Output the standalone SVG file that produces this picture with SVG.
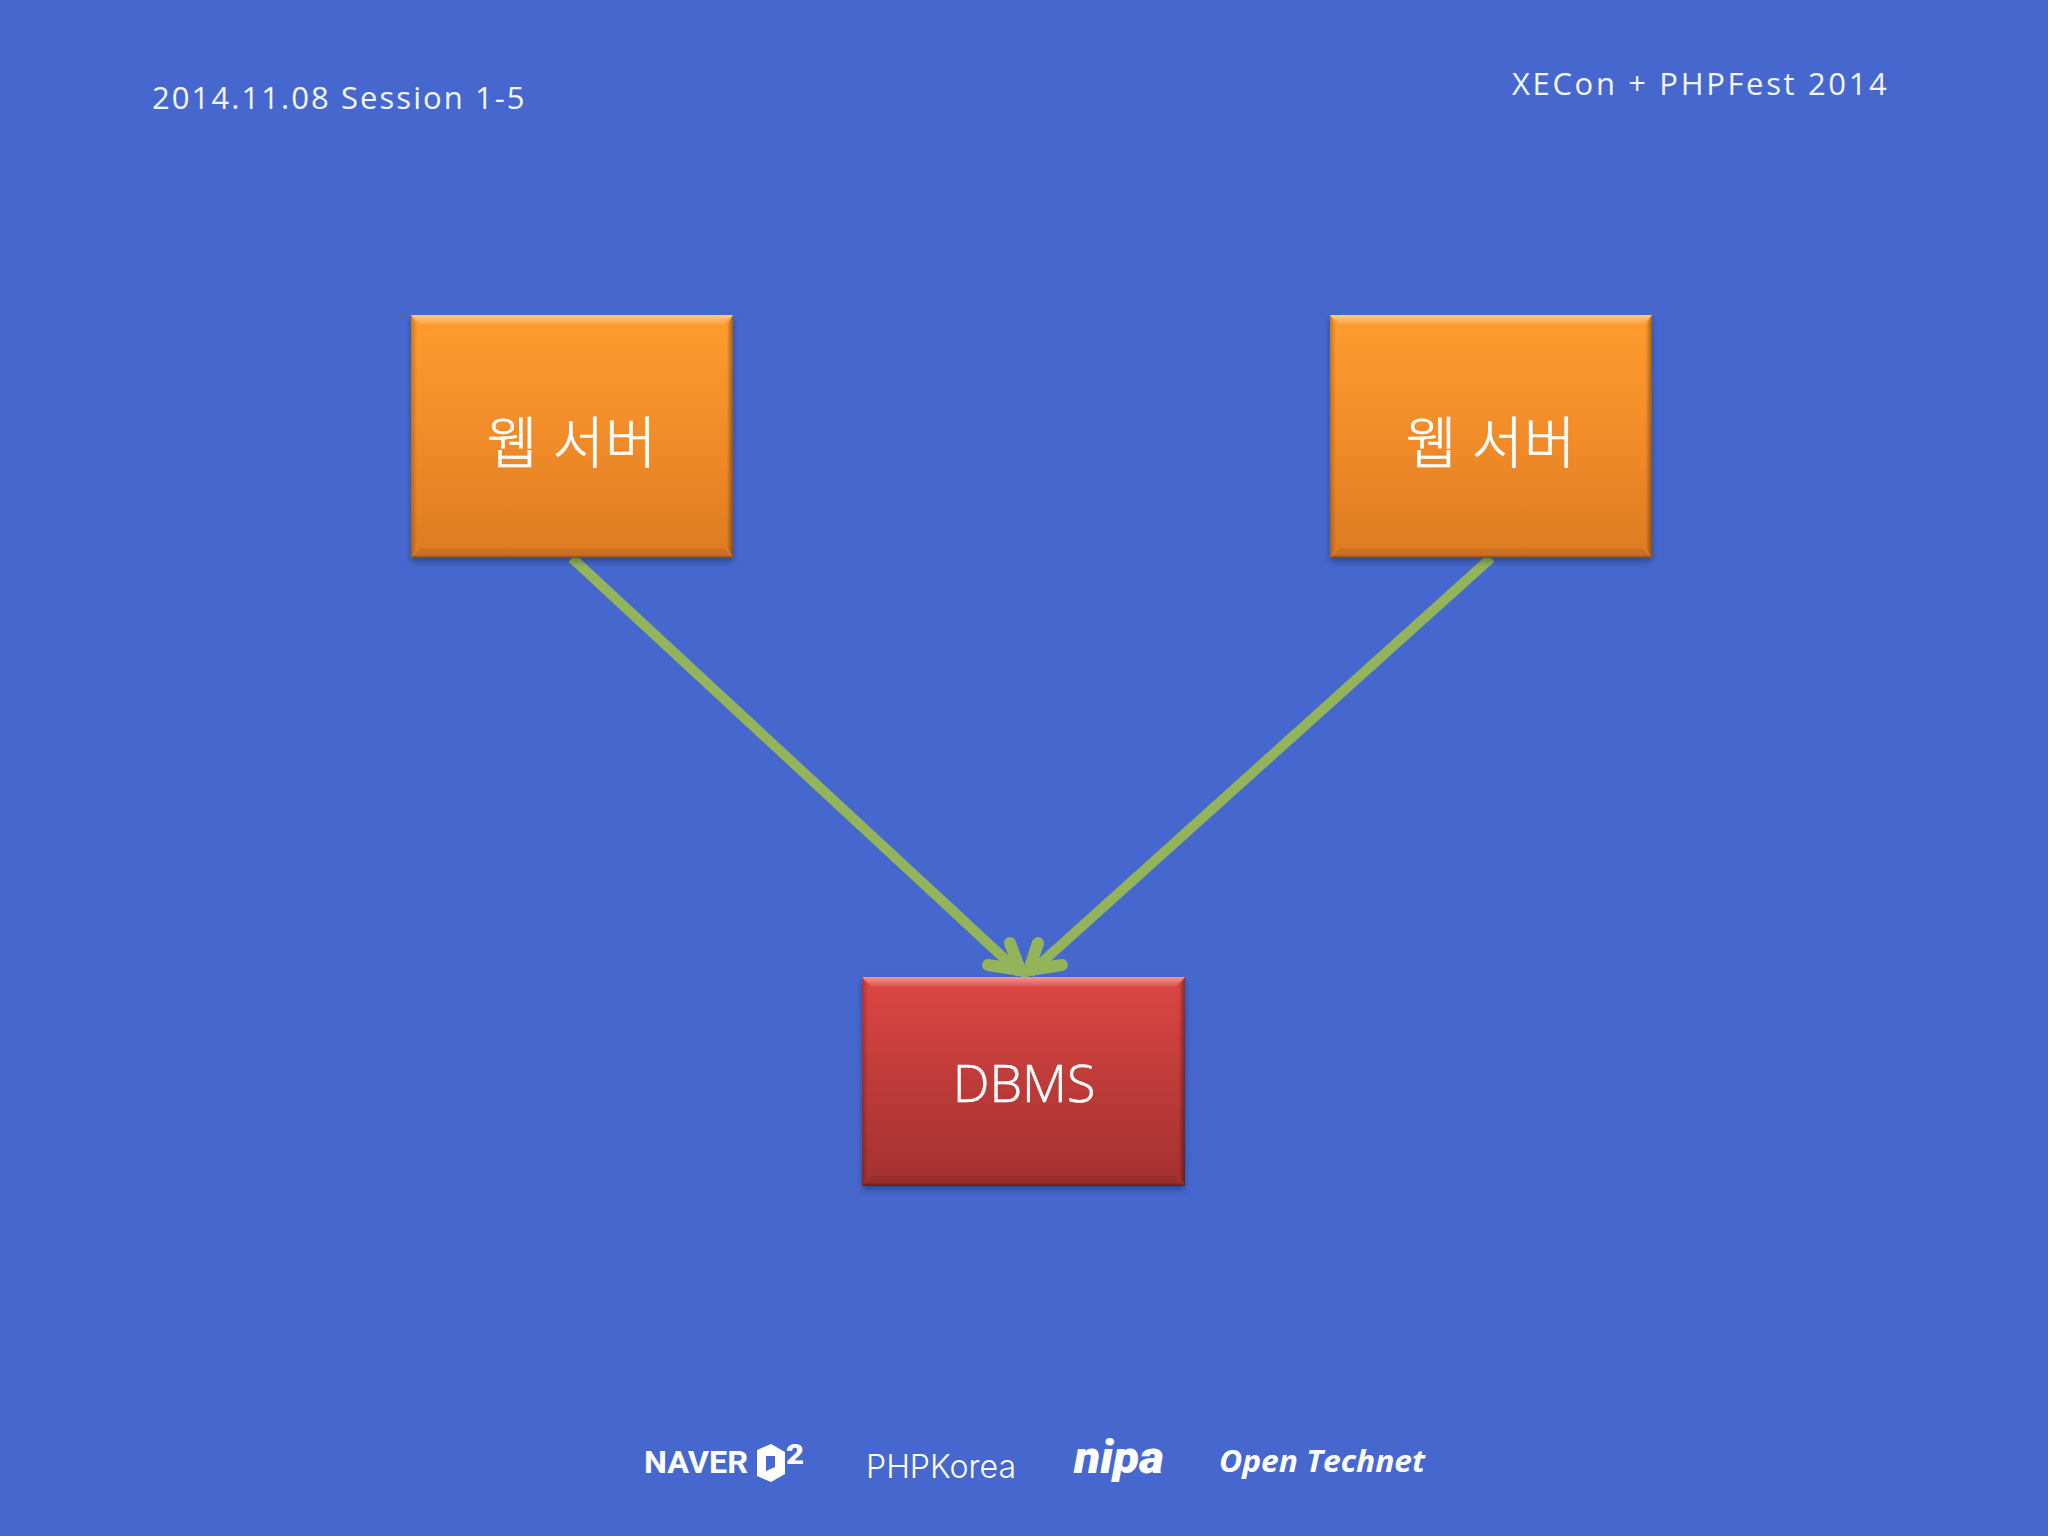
<svg xmlns="http://www.w3.org/2000/svg" width="2048" height="1536" viewBox="0 0 2048 1536">
<defs>
<linearGradient id="og" x1="0" y1="0" x2="0" y2="1"><stop offset="0" stop-color="#ff9c2e"/><stop offset="0.55" stop-color="#f08a28"/><stop offset="1" stop-color="#dc7b22"/></linearGradient>
<linearGradient id="rg" x1="0" y1="0" x2="0" y2="1"><stop offset="0" stop-color="#dd4643"/><stop offset="0.55" stop-color="#bb3a38"/><stop offset="1" stop-color="#a33130"/></linearGradient>
<linearGradient id="tb" x1="0" y1="0" x2="0" y2="1"><stop offset="0" stop-color="#fff" stop-opacity=".45"/><stop offset="1" stop-color="#fff" stop-opacity=".05"/></linearGradient>
<linearGradient id="rb" x1="0" y1="0" x2="1" y2="0"><stop offset="0" stop-color="#000" stop-opacity=".02"/><stop offset="1" stop-color="#000" stop-opacity=".38"/></linearGradient>
<linearGradient id="lb" x1="0" y1="0" x2="1" y2="0"><stop offset="0" stop-color="#000" stop-opacity=".22"/><stop offset="1" stop-color="#000" stop-opacity="0"/></linearGradient>
<linearGradient id="bb" x1="0" y1="0" x2="0" y2="1"><stop offset="0" stop-color="#000" stop-opacity=".06"/><stop offset=".7" stop-color="#000" stop-opacity=".1"/><stop offset="1" stop-color="#000" stop-opacity=".45"/></linearGradient>
<filter id="sh" x="-5%" y="-5%" width="110%" height="112%"><feGaussianBlur stdDeviation="3"/></filter>
</defs>
<style>
.h{font-family:"Open Sans","Noto Sans",sans-serif;font-weight:400;fill:#f2f5fb;font-size:31px}
.l{font-family:"Noto Sans CJK KR","Open Sans",sans-serif;font-weight:300;fill:#fff;stroke:#fff;stroke-width:.6px;font-size:56px;text-anchor:middle;letter-spacing:1px}
.d{font-family:"Open Sans","Noto Sans",sans-serif;font-weight:300;fill:#fff;stroke:#fff;stroke-width:.6px;font-size:52px;text-anchor:middle}
.c{fill:none;stroke:#93b45a;stroke-width:10;stroke-linecap:butt}
.hd{fill:none;stroke:#93b45a;stroke-width:12;stroke-linecap:round;stroke-linejoin:miter}
.s{fill:#000;opacity:.28;filter:url(#sh)}
.tb{fill:url(#tb)}
.rb{fill:url(#rb)}
.lb{fill:url(#lb)}
.bb{fill:url(#bb)}
.lw{fill:#fff}
</style>
<rect width="2048" height="1536" fill="#4668ce"/>
<text class="h" x="152" y="109" letter-spacing="2.07">2014.11.08 Session 1-5</text>
<text class="h" x="1512" y="95" letter-spacing="2.65">XECon + PHPFest 2014</text>

<g id="connectors">
<line class="c" x1="572" y1="558" x2="1020" y2="973"/>
<line class="c" x1="1491" y1="558" x2="1030" y2="973"/>
<path class="hd" d="M1010 943 L1020 970 L988 965"/>
<path class="hd" d="M1038 943 L1029 970 L1062 965"/>
</g>

<g id="web-server-1">
<rect class="s" x="411" y="319" width="322" height="243"/>
<rect x="411" y="315" width="322" height="243" fill="url(#og)"/>
<polygon class="tb" points="411,315 733,315 723,325 421,325"/>
<polygon class="lb" points="411,315 417,325 417,548 411,558"/>
<polygon class="rb" points="733,315 727,325 727,548 733,558"/>
<polygon class="bb" points="411,558 421,548 723,548 733,558"/>
<text class="l" x="572" y="463">웹 서버</text>
</g>
<g id="web-server-2">
<rect class="s" x="1330" y="319" width="322" height="243"/>
<rect x="1330" y="315" width="322" height="243" fill="url(#og)"/>
<polygon class="tb" points="1330,315 1652,315 1642,325 1340,325"/>
<polygon class="lb" points="1330,315 1336,325 1336,548 1330,558"/>
<polygon class="rb" points="1652,315 1646,325 1646,548 1652,558"/>
<polygon class="bb" points="1330,558 1340,548 1642,548 1652,558"/>
<text class="l" x="1491" y="463">웹 서버</text>
</g>
<g id="dbms">
<rect class="s" x="862" y="981" width="323" height="209"/>
<rect x="862" y="977" width="323" height="209" fill="url(#rg)"/>
<polygon class="tb" points="862,977 1185,977 1175,987 872,987"/>
<polygon class="lb" points="862,977 868,987 868,1176 862,1186"/>
<polygon class="rb" points="1185,977 1179,987 1179,1176 1185,1186"/>
<polygon class="bb" points="862,1186 872,1176 1175,1176 1185,1186"/>
<text class="d" x="1024" y="1102">DBMS</text>
</g>

<g id="logos">
<text x="644" y="1473" font-family="Roboto,sans-serif" font-weight="700" font-size="32" fill="#fff" textLength="104" lengthAdjust="spacingAndGlyphs">NAVER</text>
<path class="lw" fill-rule="evenodd" d="M757 1450 L771 1444 L785 1452 L785 1474 L771 1482 L757 1476 Z M766 1456 L766 1471 L775 1467 L775 1456 Z"/>
<text x="786" y="1464" font-family="Roboto,sans-serif" font-weight="900" font-size="27" fill="#fff" textLength="18" lengthAdjust="spacingAndGlyphs">2</text>
<text x="866" y="1478" font-family="Inter,sans-serif" font-weight="300" font-size="33" fill="#fff" textLength="150" lengthAdjust="spacingAndGlyphs">PHPKorea</text>
<text x="1074" y="1473" font-family="Roboto,sans-serif" font-weight="900" font-style="italic" font-size="46" fill="#fff" textLength="90" lengthAdjust="spacingAndGlyphs">nipa</text>
<text x="1219" y="1472" font-family="'Open Sans',sans-serif" font-weight="700" font-style="italic" font-size="30" fill="#fff" textLength="206" lengthAdjust="spacingAndGlyphs">Open Technet</text>
</g>
</svg>
